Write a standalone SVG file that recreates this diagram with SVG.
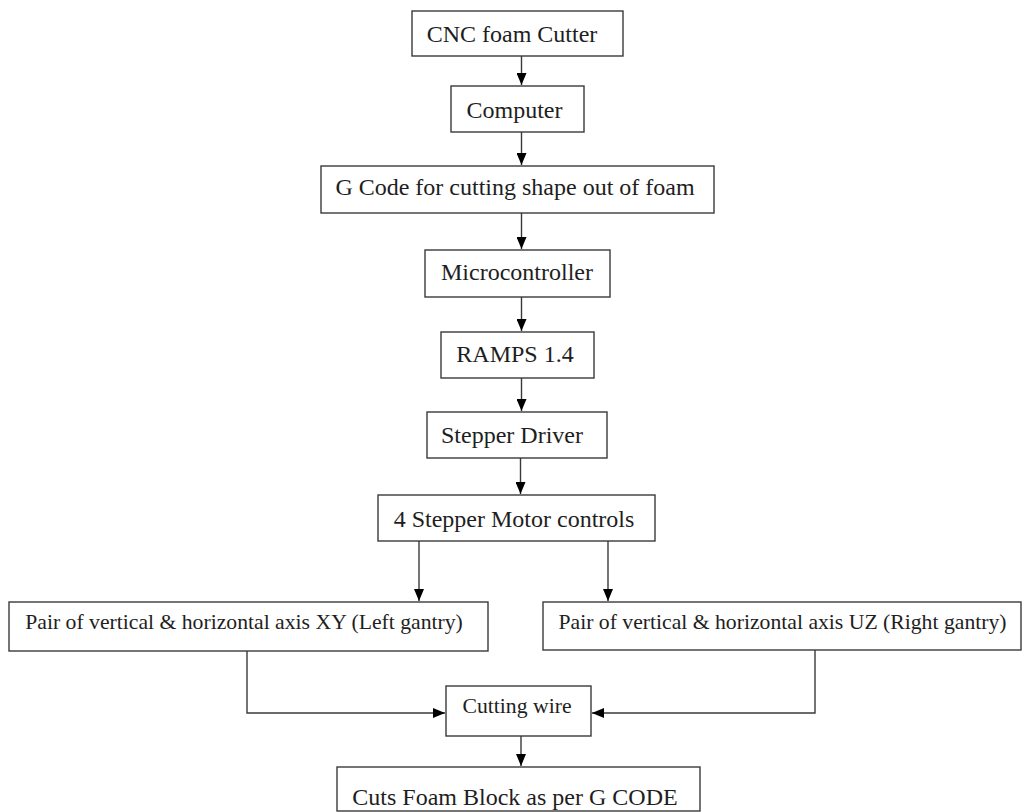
<svg xmlns="http://www.w3.org/2000/svg" width="1025" height="812" viewBox="0 0 1025 812">
  <style>
    .box { fill: #ffffff; stroke: #3a3a3a; stroke-width: 1.4; }
    .t { font-size: 24px; fill: #1e1e1e; text-anchor: middle; }
    .s { font-size: 21.7px; }
    .c { fill: none; stroke: #3a3a3a; stroke-width: 1.4; marker-end: url(#arr); }
  </style>
  <defs>
    <marker id="arr" viewBox="0 0 12 10" refX="12" refY="5" markerWidth="12" markerHeight="10" markerUnits="userSpaceOnUse" orient="auto">
      <path d="M0,0 L12,5 L0,10 z" fill="#000"/>
    </marker>
  </defs>
  <rect width="1025" height="812" fill="#ffffff"/>

  <g id="connectors">
    <path class="c" d="M521.5,56 V85"/>
    <path class="c" d="M521.5,132 V165"/>
    <path class="c" d="M521.5,213 V249"/>
    <path class="c" d="M521.5,297 V331"/>
    <path class="c" d="M521.5,378 V411"/>
    <path class="c" d="M520.5,458 V494"/>
    <path class="c" d="M419,541 V601"/>
    <path class="c" d="M608,541 V601"/>
    <path class="c" d="M247,651 V713 H445"/>
    <path class="c" d="M815,650 V713 H592"/>
    <path class="c" d="M521,736 V766"/>
  </g>

  <g font-family="'Liberation Serif', 'DejaVu Serif', serif">
  <g id="n1"><rect class="box" x="412" y="11" width="211" height="45"/><text class="t" x="512" y="42">CNC foam Cutter</text></g>
  <g id="n2"><rect class="box" x="451" y="86" width="133" height="46"/><text class="t" x="514.5" y="118">Computer</text></g>
  <g id="n3"><rect class="box" x="321" y="166" width="393" height="47"/><text class="t" x="515" y="195">G Code for cutting shape out of foam</text></g>
  <g id="n4"><rect class="box" x="425" y="250" width="185" height="47"/><text class="t" x="517" y="280">Microcontroller</text></g>
  <g id="n5"><rect class="box" x="441" y="332" width="153" height="46"/><text class="t" x="515" y="362">RAMPS 1.4</text></g>
  <g id="n6"><rect class="box" x="427" y="412" width="180" height="46"/><text class="t" x="512" y="443">Stepper Driver</text></g>
  <g id="n7"><rect class="box" x="378" y="495" width="277" height="46"/><text class="t" x="514" y="527">4 Stepper Motor controls</text></g>
  <g id="n8"><rect class="box" x="9" y="602" width="479" height="49"/><text class="t s" x="244" y="629">Pair of vertical &amp; horizontal axis XY (Left gantry)</text></g>
  <g id="n9"><rect class="box" x="543" y="602" width="478" height="48"/><text class="t s" x="782.5" y="629">Pair of vertical &amp; horizontal axis UZ (Right gantry)</text></g>
  <g id="n10"><rect class="box" x="446" y="686" width="145" height="50"/><text class="t s" x="517" y="713">Cutting wire</text></g>
  <g id="n11"><rect class="box" x="337" y="767" width="363" height="44"/><text class="t" x="515" y="805">Cuts Foam Block as per G CODE</text></g>
  </g>
</svg>
